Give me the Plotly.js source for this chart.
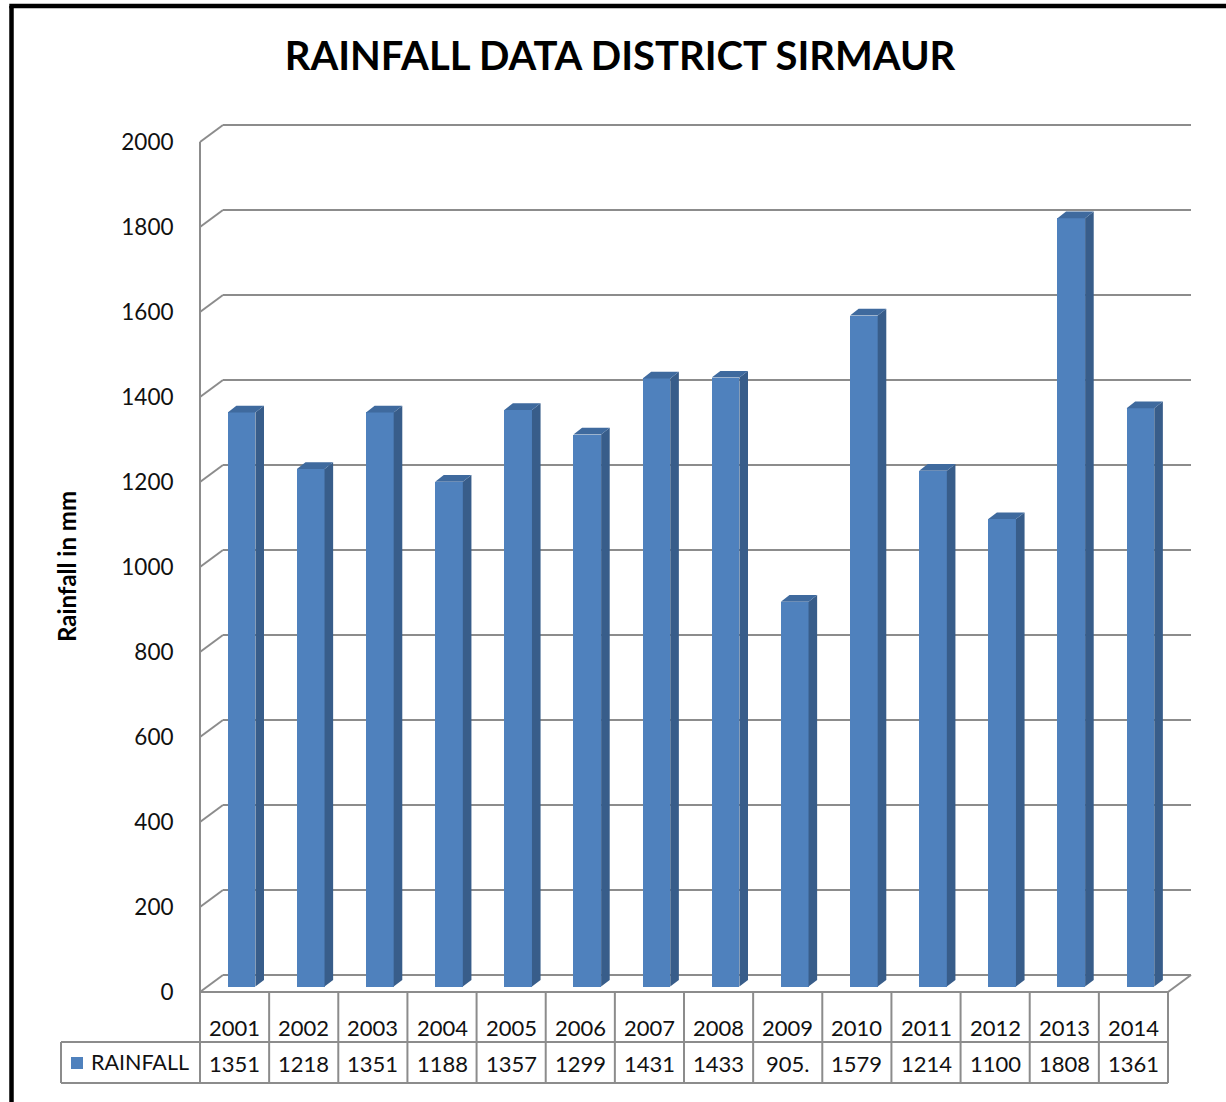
<!DOCTYPE html>
<html>
<head>
<meta charset="utf-8">
<script src="https://cdn.plot.ly/plotly-3.0.1.min.js"></script>
<style>
  html, body { margin: 0; padding: 0; background: #ffffff; }
  #chart { width: 1226px; height: 1102px; }
</style>
</head>
<body>
<div id="chart"></div>
<script>
// ---------------- DATA ----------------
const chartTitle = 'RAINFALL DATA DISTRICT SIRMAUR';
const yAxisTitle = 'Rainfall in mm';
const seriesName = 'RAINFALL';
const years = ['2001','2002','2003','2004','2005','2006','2007','2008','2009','2010','2011','2012','2013','2014'];
const rainfall = [1351, 1218, 1351, 1188, 1357, 1299, 1431, 1433, 905.5, 1579, 1214, 1100, 1808, 1361];
const yTickValues = [0, 200, 400, 600, 800, 1000, 1200, 1400, 1600, 1800, 2000];

// ---------------- LAYOUT GEOMETRY (pixels) ----------------
const W = 1226, H = 1102;
const FRONT_L = 200, FRONT_R = 1168, FRONT_B = 992;   // front plane of the 3D box
const PX_PER_UNIT = 0.425;                            // vertical pixels per mm
const DEPTH_X = 23, DEPTH_Y = 17;                     // wall depth offset
const BAR_SHIFT_X = 7, BAR_SHIFT_Y = 5.4;             // bar front plane offset
const BAR_DEPTH_X = 8.6, BAR_DEPTH_Y = 6.7;           // bar depth offset
const BAR_W_FRAC = 0.4;
const PLOT_L = FRONT_L, PLOT_R = FRONT_R + DEPTH_X, PLOT_T = 118, PLOT_B = FRONT_B;
const n = years.length;
const catW = (FRONT_R - FRONT_L) / n;

const FONT = 'Lato, "Open Sans", "DejaVu Sans", sans-serif';
const BLUE = '#4F81BD', BLUE_SIDE = '#385D8A', BLUE_TOP = '#3F6A9E';
const GRID = '#8c8c8c';
const TXT = '#111111';

// pixel -> data (bar plane) and pixel -> paper helpers
const dX = px => (px - (FRONT_L + BAR_SHIFT_X)) / catW;
const dY = py => ((FRONT_B - BAR_SHIFT_Y) - py) / PX_PER_UNIT;
const pX = px => (px - PLOT_L) / (PLOT_R - PLOT_L);
const pY = py => (PLOT_B - py) / (PLOT_B - PLOT_T);

// ---------------- TRACES ----------------
const xs = years.map((_, i) => i + 0.5);
const barTrace = {
  type: 'bar', x: xs, y: rainfall, width: BAR_W_FRAC, name: seriesName,
  marker: { color: BLUE, line: { width: 0 } }, hoverinfo: 'skip', showlegend: false
};
const dxD = BAR_DEPTH_X / catW, dyD = BAR_DEPTH_Y / PX_PER_UNIT;
const sideX = [], sideY = [], topX = [], topY = [];
xs.forEach((c, i) => {
  const v = rainfall[i], l = c - BAR_W_FRAC / 2, r = c + BAR_W_FRAC / 2;
  sideX.push(r, r + dxD, r + dxD, r, r, null);
  sideY.push(0, dyD, v + dyD, v, 0, null);
  topX.push(l, l + dxD, r + dxD, r, l, null);
  topY.push(v, v + dyD, v + dyD, v, v, null);
});
const sideTrace = { type: 'scatter', mode: 'lines', x: sideX, y: sideY, fill: 'toself',
  fillcolor: BLUE_SIDE, line: { width: 0, color: BLUE_SIDE }, hoverinfo: 'skip', showlegend: false };
const topTrace = { type: 'scatter', mode: 'lines', x: topX, y: topY, fill: 'toself',
  fillcolor: BLUE_TOP, line: { width: 0, color: BLUE_TOP }, hoverinfo: 'skip', showlegend: false };

// ---------------- SHAPES ----------------
const shapes = [];
const pline = (x0, y0, x1, y1, color, width, layer) => shapes.push({
  type: 'line', xref: 'paper', yref: 'paper', x0: pX(x0), y0: pY(y0), x1: pX(x1), y1: pY(y1),
  line: { color: color, width: width }, layer: layer || 'above'
});
// back wall gridlines with diagonal side wall segments
yTickValues.forEach(v => {
  const yf = FRONT_B - v * PX_PER_UNIT, yb = yf - DEPTH_Y;
  pline(FRONT_L, yf, FRONT_L + DEPTH_X, yb, GRID, 2, 'below');
  pline(FRONT_L + DEPTH_X, yb, FRONT_R + DEPTH_X, yb, GRID, 2, 'below');
});
// front vertical axis
const yTop = FRONT_B - yTickValues[yTickValues.length - 1] * PX_PER_UNIT;
pline(FRONT_L, yTop, FRONT_L, FRONT_B + 90, GRID, 2, 'below');
// floor front edge and right diagonal
pline(FRONT_L, FRONT_B, FRONT_R, FRONT_B, GRID, 2, 'below');
pline(FRONT_R, FRONT_B, FRONT_R + DEPTH_X, FRONT_B - DEPTH_Y, GRID, 2, 'below');
// data table
const ROW1_B = 1042, ROW2_B = 1083, LEG_L = 61;
for (let i = 0; i <= n; i++) {
  const x = FRONT_L + i * catW;
  pline(x, FRONT_B, x, ROW2_B, GRID, 2);
}
pline(LEG_L, ROW1_B, FRONT_R, ROW1_B, GRID, 2);
pline(LEG_L, ROW2_B, FRONT_R, ROW2_B, GRID, 2);
pline(LEG_L, ROW1_B, LEG_L, ROW2_B, GRID, 2);
// legend key
shapes.push({ type: 'rect', xref: 'paper', yref: 'paper', x0: pX(71), x1: pX(83), y0: pY(1069), y1: pY(1057),
  fillcolor: BLUE, line: { width: 0 } });
// black frame border
shapes.push({ type: 'line', xref: 'paper', yref: 'paper', x0: pX(11.5), y0: pY(H + 10), x1: pX(11.5), y1: pY(6),
  line: { color: '#000', width: 4.5 } });
shapes.push({ type: 'line', xref: 'paper', yref: 'paper', x0: pX(9.3), y0: pY(6), x1: pX(W + 10), y1: pY(6),
  line: { color: '#000', width: 4.5 } });

// ---------------- ANNOTATIONS ----------------
const annotations = [];
years.forEach((yr, i) => {
  const cx = FRONT_L + (i + 0.5) * catW;
  annotations.push({ xref: 'paper', yref: 'paper', x: pX(cx), y: pY(1027), text: yr, showarrow: false,
    xanchor: 'center', yanchor: 'middle', font: { family: FONT, size: 22, color: TXT } });
  annotations.push({ xref: 'paper', yref: 'paper', x: pX(cx), y: pY(1063), text: String(rainfall[i]).slice(0, 4),
    showarrow: false, xanchor: 'center', yanchor: 'middle', font: { family: FONT, size: 22, color: TXT } });
});
annotations.push({ xref: 'paper', yref: 'paper', x: pX(89), y: pY(1062), text: seriesName, showarrow: false,
  xanchor: 'left', yanchor: 'middle', font: { family: FONT, size: 21.5, color: TXT } });
annotations.push({ xref: 'paper', yref: 'paper', x: pX(66), y: pY(567), text: '<b>' + yAxisTitle + '</b>', showarrow: false,
  textangle: -90, xanchor: 'center', yanchor: 'middle', font: { family: FONT, size: 24, color: '#000' } });

// ---------------- LAYOUT ----------------
const layout = {
  width: W, height: H,
  margin: { l: PLOT_L, r: W - PLOT_R, t: PLOT_T, b: H - PLOT_B, pad: 0 },
  paper_bgcolor: '#ffffff', plot_bgcolor: 'rgba(0,0,0,0)',
  title: { text: '<b>' + chartTitle + '</b>', x: 620 / W, xanchor: 'center', y: 1 - 56 / H, yanchor: 'middle',
    font: { family: FONT, size: 40, color: '#000' } },
  xaxis: { range: [dX(PLOT_L), dX(PLOT_R)], showgrid: false, zeroline: false, showline: false,
    showticklabels: false, ticks: '', fixedrange: true },
  yaxis: { range: [dY(PLOT_B), dY(PLOT_T)], showgrid: false, zeroline: false, showline: false,
    tickmode: 'array',
    tickvals: yTickValues.map(v => dY(FRONT_B - v * PX_PER_UNIT)),
    ticktext: yTickValues.map(String),
    ticks: 'outside', ticklen: 21, tickcolor: 'rgba(0,0,0,0)',
    tickfont: { family: FONT, size: 22.5, color: TXT }, fixedrange: true },
  shapes: shapes, annotations: annotations, showlegend: false, bargap: 0
};

Plotly.newPlot('chart', [barTrace, sideTrace, topTrace], layout, { displayModeBar: false, staticPlot: true });
</script>
</body>
</html>
